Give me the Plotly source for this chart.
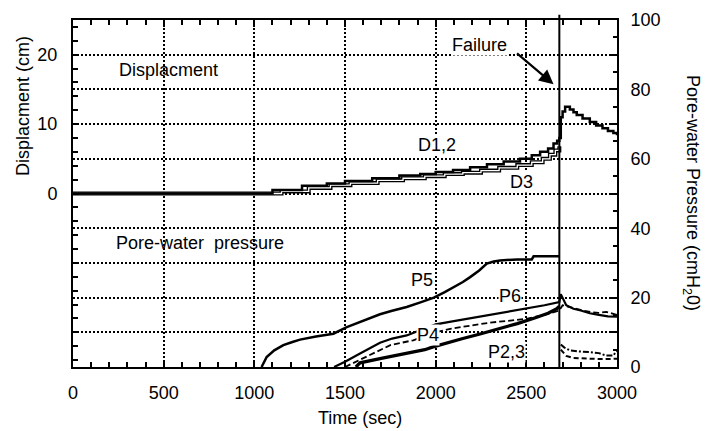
import plotly.graph_objects as go

FONT = "Liberation Sans"

# ---------------- data ----------------
# Displacement (cm), left axis
d12_t = [0, 1100, 1263, 1400, 1500, 1650, 1800, 1915, 2000, 2096, 2190, 2283, 2375, 2465, 2530, 2576,
         2620, 2650, 2670, 2682, 2690, 2700, 2714, 2740, 2760, 2778, 2810, 2850, 2885, 2920, 2950, 2980, 3000]
d12_v = [0, 0.5, 1.1, 1.45, 1.8, 2.2, 2.6, 2.8, 3.1, 3.4, 3.8, 4.2, 4.6, 5.0, 5.5, 6.0,
         6.5, 7.2, 7.6, 8.0, 11.0, 11.8, 12.5, 12.1, 11.7, 11.3, 10.8, 10.3, 9.8, 9.4, 9.0, 8.7, 8.4]

d3_t = [0, 1150, 1300, 1420, 1530, 1680, 1820, 1940, 2050, 2150, 2250, 2350, 2450, 2530, 2590, 2630, 2660, 2682]
d3_v = [0, 0.3, 0.8, 1.2, 1.5, 1.9, 2.2, 2.5, 2.8, 3.0, 3.3, 3.7, 4.1, 4.5, 5.0, 5.6, 6.2, 6.8]

# Pore-water pressure (cmH2O), right axis
p5_t = [1040, 1068, 1110, 1160, 1210, 1252, 1340, 1436, 1510, 1583, 1640, 1693, 1760, 1840, 1920, 1990,
        2050, 2100, 2150, 2190, 2240, 2282, 2320, 2355, 2450, 2530, 2540, 2682]
p5_v = [0, 2.9, 4.8, 6.3, 7.2, 7.9, 8.8, 9.6, 11.5, 13.0, 14.2, 15.2, 16.2, 17.3, 18.7, 20.0,
        21.6, 23.0, 24.5, 25.9, 27.8, 29.8, 30.4, 30.7, 31.0, 31.0, 31.9, 31.9]

p6_t = [1440, 1500, 1583, 1640, 1693, 1760, 1840, 1900, 2000, 2100, 2200, 2300, 2400, 2500, 2600, 2682,
        2690, 2720, 2760, 2800, 2850, 2900, 2950, 3000]
p6_v = [0, 1.5, 3.9, 5.5, 7.0, 8.2, 9.1, 10.3, 12.3, 13.2, 14.1, 15.0, 16.0, 17.0, 17.8, 18.7,
        21.0, 17.8, 16.8, 16.3, 15.5, 15.0, 14.6, 14.5]

p4_t = [1500, 1600, 1680, 1750, 1876, 1950, 2000, 2080, 2200, 2300, 2400, 2500, 2600, 2682,
        2700, 2740, 2780, 2820, 2860, 2900, 2940, 2980, 3000]
p4_v = [0, 2.5, 4.5, 6.3, 7.7, 9.0, 10.0, 11.0, 12.0, 12.8, 13.3, 13.9, 15.0, 16.3,
        17.8, 17.2, 16.8, 16.2, 15.8, 15.6, 15.9, 15.2, 15.0]

p23_t = [1560, 1583, 1700, 1780, 1860, 1940, 1986, 2043, 2150, 2250, 2350, 2450, 2550, 2620, 2668, 2682]
p23_v = [0, 1.2, 2.5, 3.3, 4.0, 5.0, 5.8, 6.7, 8.2, 9.6, 11.0, 12.5, 14.2, 15.5, 16.8, 17.5]

p2_post_t = [2690, 2710, 2740, 2780, 2850, 2900, 2940, 2980, 2995, 3000]
p2_post_v = [6.5, 5.6, 4.8, 4.5, 4.3, 4.0, 3.3, 3.3, 4.5, 4.6]

p3_post_t = [2690, 2720, 2760, 2820, 2900, 2960, 3000]
p3_post_v = [5.0, 3.2, 2.6, 2.4, 2.3, 2.3, 2.4]

failure_t = 2682

x_ticks = [0, 500, 1000, 1500, 2000, 2500, 3000]
p_ticks = [0, 10, 20, 30, 40, 50, 60, 70, 80, 90, 100]
p_ticktext = ["0", "", "20", "", "40", "", "60", "", "80", "", "100"]
d_ticks = [0, 10, 20]

# ---------------- figure ----------------
# page body has an 8px default margin, so the figure is sized/offset to compensate
OFF = 8
W, H = 717 - OFF, 431 - OFF
PL, PT, PW, PH = 73 - OFF, 20 - OFF, 544, 347

fig = go.Figure()


def line(t, v, axis, width, dash="solid", color="black", shape="linear"):
    fig.add_trace(go.Scatter(x=t, y=v, yaxis=axis, mode="lines",
                             line=dict(color=color, width=width, dash=dash, shape=shape),
                             showlegend=False, hoverinfo="skip"))


# displacement (stepped records)
line(d3_t, d3_v, "y2", 4.0, shape="hv")
line(d3_t, d3_v, "y2", 1.3, color="white", shape="hv")
line(d12_t, d12_v, "y2", 2.5, shape="hv")

# pore pressure
line(p5_t, p5_v, "y", 2.5)
line(p6_t, p6_v, "y", 2.2)
line(p4_t, p4_v, "y", 1.8, dash="6px,3px")
line(p23_t, p23_v, "y", 3.2)
line(p2_post_t, p2_post_v, "y", 2.0, dash="6px,2px,2px,2px")
line(p3_post_t, p3_post_v, "y", 2.0, dash="5px,3px")

fig.add_shape(type="line", xref="x", yref="paper", x0=failure_t, x1=failure_t, y0=0, y1=1.015,
              line=dict(color="black", width=2))

grid = dict(showgrid=True, gridcolor="black", gridwidth=2, griddash="2px,2px")

fig.update_layout(
    width=W, height=H,
    margin=dict(l=PL, r=W - PL - PW, t=PT, b=H - PT - PH, pad=0),
    paper_bgcolor="white", plot_bgcolor="white",
    font=dict(family=FONT, size=18, color="black"),
    xaxis=dict(range=[0, 3000], tickvals=x_ticks, ticks="inside", ticklen=7, tickwidth=2,
               tickcolor="black", showline=True, linecolor="black", linewidth=2, mirror="ticks",
               zeroline=False, ticklabelstandoff=8, automargin=False,
               minor=dict(dtick=100, ticks="inside", ticklen=5, tickwidth=1.5, tickcolor="black",
                          showgrid=False),
               **grid),
    yaxis=dict(range=[0, 100], side="right", tickvals=p_ticks, ticktext=p_ticktext,
               ticks="inside", ticklen=6, tickwidth=2, tickcolor="black", automargin=False,
               showline=True, linecolor="black", linewidth=2, zeroline=False, ticklabelstandoff=8,
               minor=dict(dtick=5, ticks="inside", ticklen=4, tickwidth=1.5, tickcolor="black",
                          showgrid=False),
               **grid),
    yaxis2=dict(range=[-25, 25], overlaying="y", side="left", tickvals=d_ticks,
                ticks="inside", ticklen=6, tickwidth=2, tickcolor="black", automargin=False,
                showline=True, linecolor="black", linewidth=2, zeroline=False, showgrid=False,
                ticklabelstandoff=10,
                minor=dict(dtick=2, ticks="inside", ticklen=5, tickwidth=1.5, tickcolor="black",
                           showgrid=False)),
)


def px(x):
    return (x - 73) / PW


def py(y):
    return (367 - y) / PH


ann = []
# axis titles
ann.append(dict(text="Time (sec)", xref="paper", yref="paper", x=px(360), y=py(418),
                showarrow=False, xanchor="center", yanchor="middle"))
ann.append(dict(text="Displacment (cm)", xref="paper", yref="paper", x=px(23), y=py(106),
                showarrow=False, textangle=-90, xanchor="center", yanchor="middle"))
ann.append(dict(text="Pore-water Pressure (cmH<sub>2</sub>0)", xref="paper", yref="paper",
                x=px(692), y=py(193),
                showarrow=False, textangle=90, xanchor="center", yanchor="middle"))

# in-plot labels
labels = [("Displacment", 524, 85.6, None), ("Pore-water\u00a0\u00a0pressure", 700, 35.7, None),
          ("Failure", 2242, 92.8, "white"), ("D1,2", 2007, 64.0, "white"), ("D3", 2471, 53.3, "white"),
          ("P5", 1925, 25.1, "white"), ("P6", 2410, 20.5, "white"), ("P4", 1958, 9.2, "white"),
          ("P2,3", 2393, 4.3, "white")]
for txt, x, y, bg in labels:
    a = dict(text=txt, x=x, y=y, xref="x", yref="y", showarrow=False, xanchor="center", yanchor="middle",
             borderpad=0)
    if bg:
        a["bgcolor"] = bg
    ann.append(a)

# failure arrow
ann.append(dict(text="", x=2650, y=81.5, xref="x", yref="y", ax=-38, ay=-32, showarrow=True,
                arrowhead=2, arrowsize=1.3, arrowwidth=2.2, arrowcolor="black"))

fig.update_layout(annotations=ann)
fig.write_html("out.html")
